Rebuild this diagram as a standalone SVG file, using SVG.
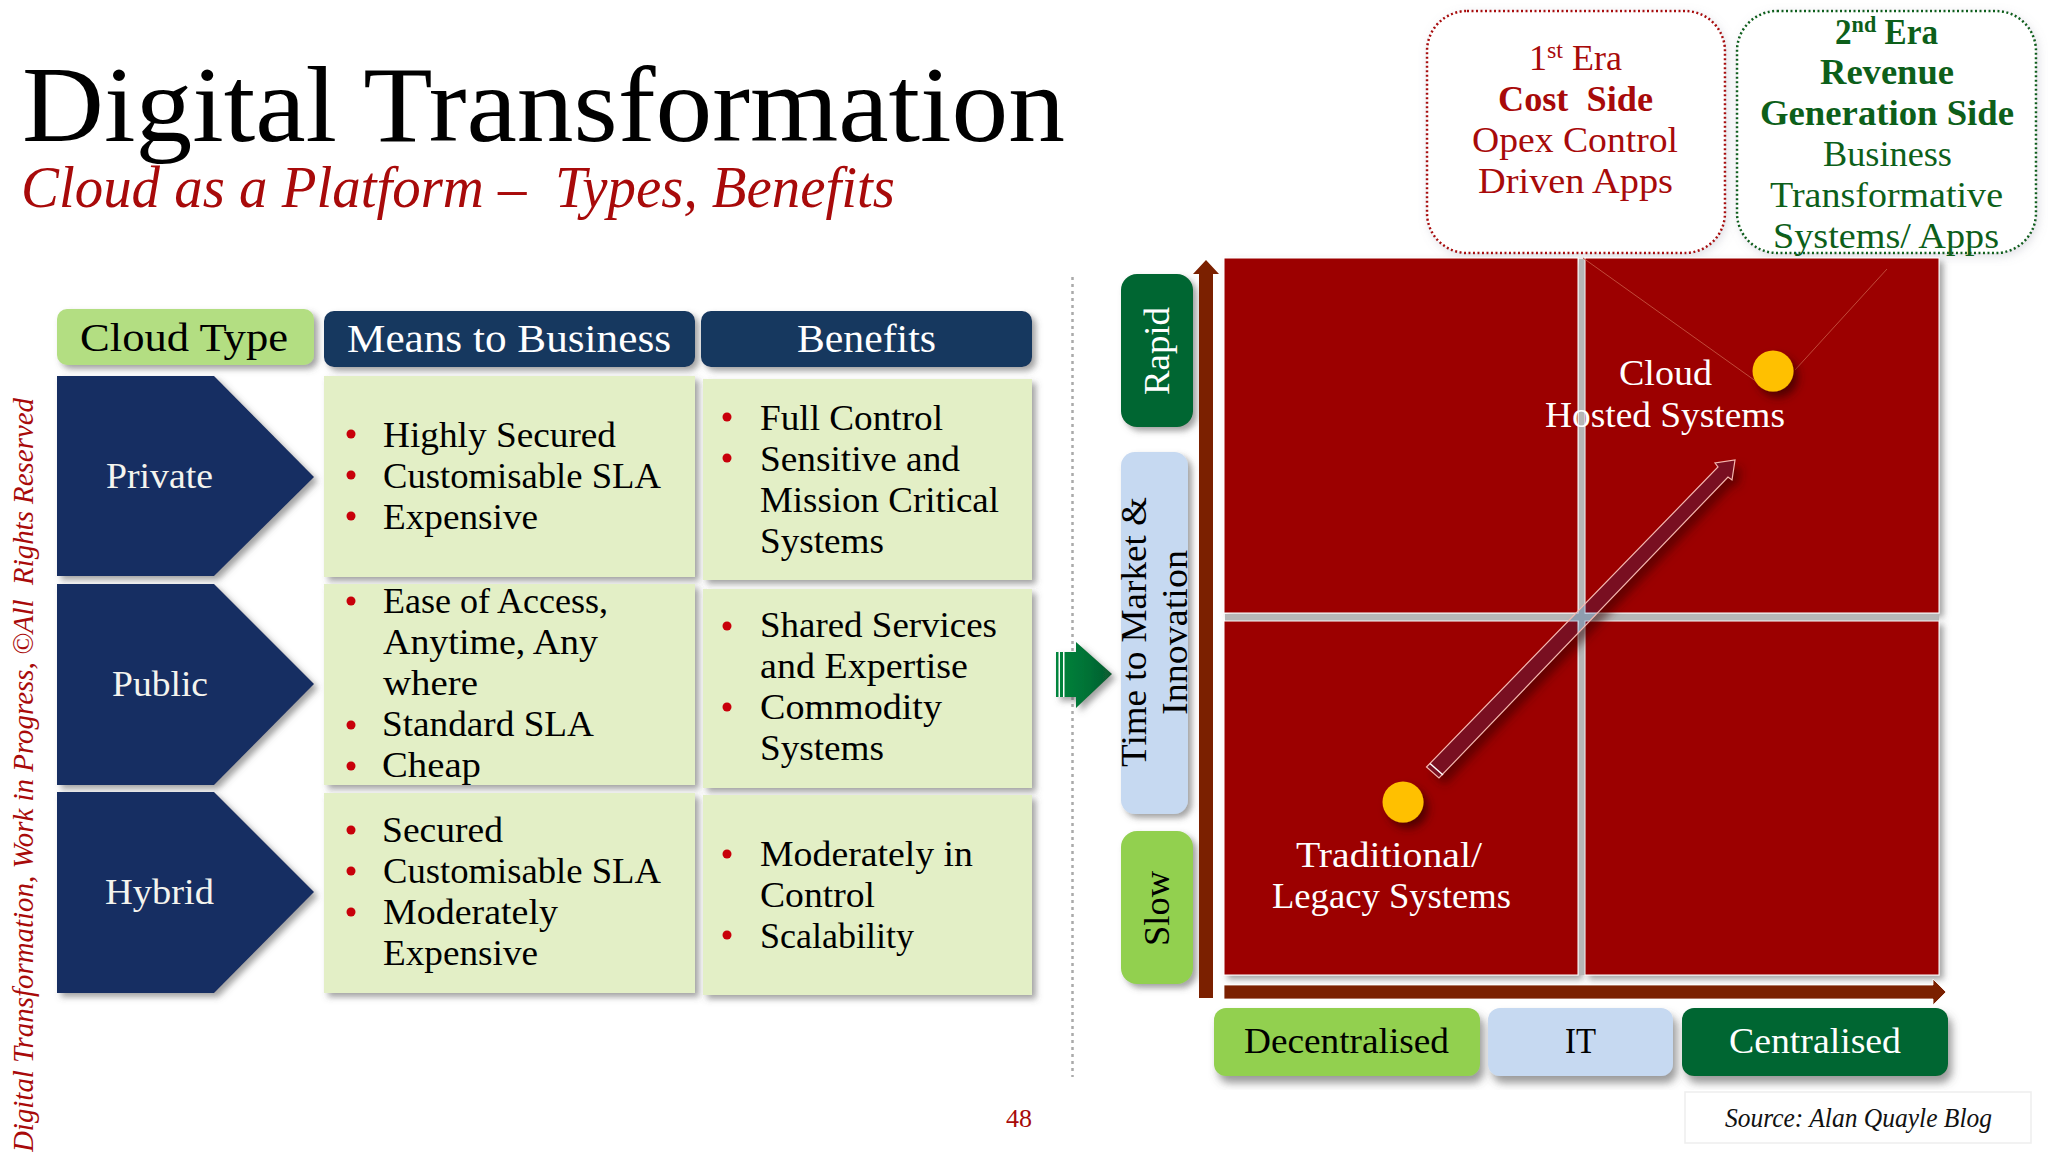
<svg xmlns="http://www.w3.org/2000/svg" width="2048" height="1152" viewBox="0 0 2048 1152">
<style>
text{font-family:"Liberation Serif","Times New Roman",serif;}
.b{font-size:35px;fill:#000;}
.h{font-size:40px;}
.w{fill:#fff;}
.l{font-size:36px;fill:#f4f4ee;}
.q{font-size:36px;fill:#fff;}
.r{fill:#a80a0a;font-size:36px;}
.g{fill:#0d5f1a;font-size:36px;}
.bd{font-weight:bold;}
.dot{fill:#c8000a;}
.era{fill:#fff;stroke-width:2.5;stroke-dasharray:2 2.5;}
.quad{fill:#9c0000;stroke:#fff;stroke-width:1;}
.thin{stroke:#c24a3a;stroke-width:1;fill:none;}
</style>
<defs>
<filter id="sh" x="-15%" y="-15%" width="135%" height="135%"><feDropShadow dx="4" dy="7" stdDeviation="4" flood-color="#555" flood-opacity=".6"/></filter>
<filter id="sh2" x="-15%" y="-15%" width="135%" height="135%"><feDropShadow dx="4" dy="4" stdDeviation="3" flood-color="#555" flood-opacity=".55"/></filter>
<filter id="sh3" x="-40%" y="-40%" width="190%" height="190%"><feDropShadow dx="5" dy="6" stdDeviation="4" flood-color="#300" flood-opacity=".7"/></filter>
<filter id="sh4" x="-5%" y="-5%" width="110%" height="110%"><feDropShadow dx="2" dy="3" stdDeviation="5" flood-color="#99a" flood-opacity=".3"/></filter>
<filter id="so" x="-10%" y="-10%" width="130%" height="130%"><feGaussianBlur in="SourceAlpha" stdDeviation="5"/><feOffset dx="6" dy="7" result="o"/><feFlood flood-color="#300" flood-opacity=".55"/><feComposite in2="o" operator="in"/><feComposite in2="SourceAlpha" operator="out"/></filter>
<linearGradient id="ga" x1="0" y1="0" x2="1" y2="0"><stop offset="0" stop-color="#00853c"/><stop offset=".6" stop-color="#007035"/><stop offset="1" stop-color="#0a5a30"/></linearGradient>
</defs>
<rect width="2048" height="1152" fill="#fff"/>

<g id="title">
<text x="22" y="141" font-size="107" textLength="1043" lengthAdjust="spacingAndGlyphs" fill="#000">Digital Transformation</text>
<text x="21" y="207" font-size="60" font-style="italic" textLength="874" lengthAdjust="spacingAndGlyphs" fill="#a80a0a" xml:space="preserve">Cloud as a Platform –  Types, Benefits</text>
</g>
<g id="copyright"><text transform="translate(33,1152) rotate(-90)" font-size="30" font-style="italic" textLength="754" lengthAdjust="spacingAndGlyphs" fill="#a80a0a" xml:space="preserve">Digital Transformation, Work in Progress, ©All  Rights Reserved</text></g>

<g id="era1">
<rect class="era" x="1427" y="11" width="298" height="242" rx="40" stroke="#a80a0a" filter="url(#sh4)"/>
<text class="r" x="1529" y="70" textLength="93" lengthAdjust="spacingAndGlyphs">1<tspan font-size="24" dy="-12">st</tspan><tspan dy="12"> Era</tspan></text>
<text class="r bd" x="1498" y="111" textLength="155" lengthAdjust="spacingAndGlyphs" xml:space="preserve">Cost  Side</text>
<text class="r" x="1472" y="152" textLength="206" lengthAdjust="spacingAndGlyphs">Opex Control</text>
<text class="r" x="1478" y="193" textLength="195" lengthAdjust="spacingAndGlyphs">Driven Apps</text>
</g>
<g id="era2">
<rect class="era" x="1737" y="11" width="299" height="242" rx="40" stroke="#0d5f1a" filter="url(#sh4)"/>
<text class="g bd" x="1835" y="44" textLength="103" lengthAdjust="spacingAndGlyphs">2<tspan font-size="24" dy="-12">nd</tspan><tspan dy="12"> Era</tspan></text>
<text class="g bd" x="1820" y="84" textLength="134" lengthAdjust="spacingAndGlyphs">Revenue</text>
<text class="g bd" x="1760" y="125" textLength="254" lengthAdjust="spacingAndGlyphs">Generation Side</text>
<text class="g" x="1823" y="166" textLength="129" lengthAdjust="spacingAndGlyphs">Business</text>
<text class="g" x="1770" y="207" textLength="233" lengthAdjust="spacingAndGlyphs">Transformative</text>
<text class="g" x="1773" y="248" textLength="226" lengthAdjust="spacingAndGlyphs">Systems/ Apps</text>
</g>

<g id="head-cloud-type"><rect x="57" y="309" width="257" height="56" rx="10" fill="#b3de82" filter="url(#sh2)"/>
<text class="h" x="80" y="351" textLength="208" lengthAdjust="spacingAndGlyphs">Cloud Type</text></g>
<g id="head-means"><rect x="324" y="311" width="371" height="56" rx="10" fill="#17375e" filter="url(#sh2)"/>
<text class="h w" x="347" y="352" textLength="324" lengthAdjust="spacingAndGlyphs">Means to Business</text></g>
<g id="head-benefits"><rect x="701" y="311" width="331" height="56" rx="10" fill="#17375e" filter="url(#sh2)"/>
<text class="h w" x="797" y="352" textLength="139" lengthAdjust="spacingAndGlyphs">Benefits</text></g>

<g id="private"><path d="M57 376H214L314 477L214 576H57Z" fill="#132d62" filter="url(#sh2)"/>
<text class="l" x="106" y="488" textLength="107" lengthAdjust="spacingAndGlyphs">Private</text></g>
<g id="public"><path d="M57 584H214L314 684L214 785H57Z" fill="#132d62" filter="url(#sh2)"/>
<text class="l" x="112" y="696" textLength="96" lengthAdjust="spacingAndGlyphs">Public</text></g>
<g id="hybrid"><path d="M57 792H214L314 892L214 993H57Z" fill="#132d62" filter="url(#sh2)"/>
<text class="l" x="105" y="904" textLength="109" lengthAdjust="spacingAndGlyphs">Hybrid</text></g>

<g id="means-private"><rect x="324" y="376" width="371" height="201" fill="#e3efc6" filter="url(#sh2)"/>
<circle class="dot" cx="351" cy="434" r="4.5"/><circle class="dot" cx="351" cy="475" r="4.5"/><circle class="dot" cx="351" cy="516" r="4.5"/>
<text class="b" x="383" y="447" textLength="233" lengthAdjust="spacingAndGlyphs">Highly Secured</text>
<text class="b" x="383" y="488" textLength="278" lengthAdjust="spacingAndGlyphs">Customisable SLA</text>
<text class="b" x="383" y="529" textLength="155" lengthAdjust="spacingAndGlyphs">Expensive</text></g>
<g id="means-public"><rect x="324" y="584" width="371" height="201" fill="#e3efc6" filter="url(#sh2)"/>
<circle class="dot" cx="351" cy="601" r="4.5"/><circle class="dot" cx="351" cy="725" r="4.5"/><circle class="dot" cx="351" cy="766" r="4.5"/>
<text class="b" x="383" y="613" textLength="225" lengthAdjust="spacingAndGlyphs">Ease of Access,</text>
<text class="b" x="383" y="654" textLength="215" lengthAdjust="spacingAndGlyphs">Anytime, Any</text>
<text class="b" x="383" y="695" textLength="95" lengthAdjust="spacingAndGlyphs">where</text>
<text class="b" x="382" y="736" textLength="212" lengthAdjust="spacingAndGlyphs">Standard SLA</text>
<text class="b" x="382" y="777" textLength="99" lengthAdjust="spacingAndGlyphs">Cheap</text></g>
<g id="means-hybrid"><rect x="324" y="793" width="371" height="200" fill="#e3efc6" filter="url(#sh2)"/>
<circle class="dot" cx="351" cy="830" r="4.5"/><circle class="dot" cx="351" cy="871" r="4.5"/><circle class="dot" cx="351" cy="912" r="4.5"/>
<text class="b" x="382" y="842" textLength="121" lengthAdjust="spacingAndGlyphs">Secured</text>
<text class="b" x="383" y="883" textLength="278" lengthAdjust="spacingAndGlyphs">Customisable SLA</text>
<text class="b" x="383" y="924" textLength="175" lengthAdjust="spacingAndGlyphs">Moderately</text>
<text class="b" x="383" y="965" textLength="155" lengthAdjust="spacingAndGlyphs">Expensive</text></g>

<g id="benefits-private"><rect x="703" y="379" width="329" height="201" fill="#e3efc6" filter="url(#sh2)"/>
<circle class="dot" cx="727" cy="417" r="4.5"/><circle class="dot" cx="727" cy="458" r="4.5"/>
<text class="b" x="760" y="430" textLength="183" lengthAdjust="spacingAndGlyphs">Full Control</text>
<text class="b" x="760" y="471" textLength="200" lengthAdjust="spacingAndGlyphs">Sensitive and</text>
<text class="b" x="760" y="512" textLength="239" lengthAdjust="spacingAndGlyphs">Mission Critical</text>
<text class="b" x="760" y="553" textLength="124" lengthAdjust="spacingAndGlyphs">Systems</text></g>
<g id="benefits-public"><rect x="703" y="589" width="329" height="199" fill="#e3efc6" filter="url(#sh2)"/>
<circle class="dot" cx="727" cy="626" r="4.5"/><circle class="dot" cx="727" cy="707" r="4.5"/>
<text class="b" x="760" y="637" textLength="237" lengthAdjust="spacingAndGlyphs">Shared Services</text>
<text class="b" x="760" y="678" textLength="208" lengthAdjust="spacingAndGlyphs">and Expertise</text>
<text class="b" x="760" y="719" textLength="182" lengthAdjust="spacingAndGlyphs">Commodity</text>
<text class="b" x="760" y="760" textLength="124" lengthAdjust="spacingAndGlyphs">Systems</text></g>
<g id="benefits-hybrid"><rect x="703" y="795" width="329" height="200" fill="#e3efc6" filter="url(#sh2)"/>
<circle class="dot" cx="727" cy="854" r="4.5"/><circle class="dot" cx="727" cy="935" r="4.5"/>
<text class="b" x="760" y="866" textLength="213" lengthAdjust="spacingAndGlyphs">Moderately in</text>
<text class="b" x="760" y="907" textLength="115" lengthAdjust="spacingAndGlyphs">Control</text>
<text class="b" x="760" y="948" textLength="154" lengthAdjust="spacingAndGlyphs">Scalability</text></g>

<g id="quadrants">
<rect class="quad" x="1224" y="258" width="354" height="355" filter="url(#sh2)"/>
<rect class="quad" x="1585" y="258" width="354" height="355" filter="url(#sh2)"/>
<rect class="quad" x="1224" y="621" width="354" height="354" filter="url(#sh2)"/>
<rect class="quad" x="1585" y="621" width="354" height="354" filter="url(#sh2)"/>
<rect x="1579" y="259" width="5.5" height="716" fill="#b6b6b6"/>
<rect x="1225" y="614" width="714" height="6.5" fill="#b6b6b6"/>
</g>

<g id="y-rapid"><rect x="1121" y="274" width="72" height="153" rx="16" fill="#006633" filter="url(#sh2)"/>
<text class="w" transform="translate(1169,395) rotate(-90)" style="font-size:36px" textLength="88" lengthAdjust="spacingAndGlyphs">Rapid</text></g>
<g id="y-time"><rect x="1121" y="452" width="67" height="362" rx="14" fill="#c6d9f1" filter="url(#sh2)"/>
<text class="b" transform="translate(1146,767) rotate(-90)" textLength="270" lengthAdjust="spacingAndGlyphs">Time to Market &amp;</text>
<text class="b" transform="translate(1187,715) rotate(-90)" textLength="165" lengthAdjust="spacingAndGlyphs">Innovation</text></g>
<g id="y-slow"><rect x="1121" y="831" width="72" height="153" rx="16" fill="#92d050" filter="url(#sh2)"/>
<text class="b" transform="translate(1169,946) rotate(-90)" textLength="75" lengthAdjust="spacingAndGlyphs">Slow</text></g>

<g id="x-decentralised"><rect x="1214" y="1008" width="266" height="68" rx="12" fill="#92d050" filter="url(#sh)"/>
<text class="b" style="font-size:36px" x="1244" y="1053" textLength="205" lengthAdjust="spacingAndGlyphs">Decentralised</text></g>
<g id="x-it"><rect x="1488" y="1008" width="185" height="68" rx="12" fill="#c6d9f1" filter="url(#sh)"/>
<text class="b" style="font-size:36px" x="1565" y="1053" textLength="31" lengthAdjust="spacingAndGlyphs">IT</text></g>
<g id="x-centralised"><rect x="1682" y="1008" width="266" height="68" rx="12" fill="#006633" filter="url(#sh)"/>
<text class="b w" style="font-size:36px;fill:#fff" x="1729" y="1053" textLength="172" lengthAdjust="spacingAndGlyphs">Centralised</text></g>

<g id="connectors">
<line x1="1072.5" y1="277" x2="1072.5" y2="1077" stroke="#aaa" stroke-width="2.5" stroke-dasharray="3 4"/>
<line class="thin" x1="1583" y1="258" x2="1757" y2="382"/>
<line class="thin" x1="1887" y1="269" x2="1795" y2="370"/>
<path d="M1199 998V274H1193L1206 260L1219 274H1213V998Z" fill="#7b2000"/>
<path d="M1224 985H1933V979L1946 992L1933 1005V999H1224Z" fill="#7b2000" stroke="#fff" stroke-width=".8"/>
<path d="M1426.5 767L1718 467L1715 463L1735 460L1732 480L1728 477L1439 778Z" fill="#000" filter="url(#so)"/>
<path d="M1426.5 767L1718 467L1715 463L1735 460L1732 480L1728 477L1439 778Z" fill="#004696" fill-opacity=".22" stroke="#f5b8b0" stroke-width="1.2"/>
<line x1="1430" y1="763.5" x2="1443" y2="775" stroke="#fff" stroke-width="1.5"/>
<g filter="url(#sh2)"><path d="M1056 652H1076V642L1112 674L1076 708V697H1056Z" fill="url(#ga)"/></g>
<rect x="1058.5" y="652" width="1.5" height="45" fill="#fff"/>
<rect x="1063" y="652" width="1.5" height="45" fill="#fff"/>
</g>

<g id="cloud-hosted"><circle cx="1773" cy="371" r="20.5" fill="#ffc000" filter="url(#sh3)"/>
<text class="q" x="1619" y="385" textLength="93" lengthAdjust="spacingAndGlyphs">Cloud</text>
<text class="q" x="1545" y="427" textLength="240" lengthAdjust="spacingAndGlyphs">Hosted Systems</text></g>
<g id="traditional"><circle cx="1403" cy="802" r="20.5" fill="#ffc000" filter="url(#sh3)"/>
<text class="q" x="1296" y="867" textLength="186" lengthAdjust="spacingAndGlyphs">Traditional/</text>
<text class="q" x="1272" y="908" textLength="239" lengthAdjust="spacingAndGlyphs">Legacy Systems</text></g>

<g id="source"><rect x="1685" y="1092" width="346" height="51" fill="#fff" stroke="#eee" stroke-width="1.5"/>
<text x="1725" y="1127" font-size="27" font-style="italic" textLength="267" lengthAdjust="spacingAndGlyphs" fill="#111">Source: Alan Quayle Blog</text></g>
<g id="page"><text x="1006" y="1127" font-size="26" textLength="26" lengthAdjust="spacingAndGlyphs" fill="#a80a0a">48</text></g>
</svg>
